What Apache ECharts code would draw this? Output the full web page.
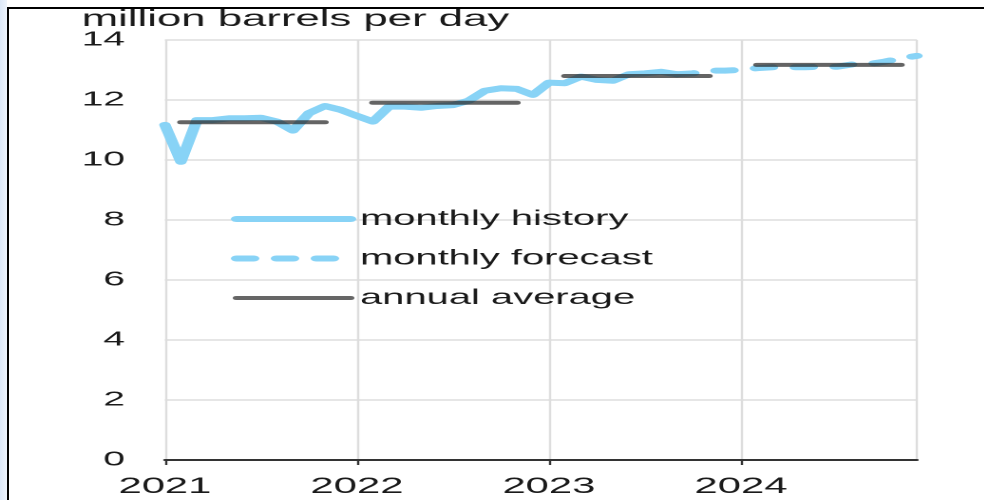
<!DOCTYPE html>
<html>
<head>
<meta charset="utf-8">
<script src="https://cdn.jsdelivr.net/npm/echarts@6/dist/echarts.min.js"></script>
<style>
  html, body { margin: 0; padding: 0; background: #fff; }
  body { width: 984px; height: 500px; position: relative; overflow: hidden; }
  #strip { position: absolute; left: 0; top: 0; width: 7px; height: 500px;
           background: linear-gradient(to right, #dce8f8, #eef4fc); }
  #frame { position: absolute; left: 7px; top: 7px; right: -5px; bottom: -5px;
           border-left: 2.5px solid #000; border-top: 2.5px solid #000; pointer-events: none; z-index: 5; }
  #c { position: absolute; left: 0; top: 0; width: 518px; height: 500px;
       transform: scaleX(1.9); transform-origin: 0 0; }
</style>
</head>
<body>
<div id="strip"></div>
<div id="c"></div>
<div id="frame"></div>
<script>
// ---- data ----
var years = ['2021', '2022', '2023', '2024'];
var months = ['01','02','03','04','05','06','07','08','09','10','11','12'];
// monthly history, Jan 2021 .. Sep 2023
var monthlyHistory = [
  11.17, 9.94, 11.33, 11.33, 11.39, 11.39, 11.41, 11.28, 10.98, 11.56, 11.80, 11.67,
  11.47, 11.28, 11.78, 11.78, 11.74, 11.80, 11.83, 11.98, 12.31, 12.39, 12.37, 12.17,
  12.58, 12.56, 12.78, 12.67, 12.64, 12.86, 12.89, 12.94, 12.86
];
// monthly forecast, Sep 2023 .. Dec 2024
var monthlyForecast = [
  12.86, 12.89, 12.98, 12.98,
  13.00, 13.06, 13.09, 13.09, 13.09, 13.11, 13.11, 13.19, 13.20, 13.28, 13.39, 13.47
];
var forecastStart = 32;
// annual averages
var annualAvg = [11.26, 11.91, 12.80, 13.17];

// ---- build ----
var categories = [];
years.forEach(function (y) { months.forEach(function (m) { categories.push(y + '-' + m); }); });
var n = categories.length;

var histData = categories.map(function (c, i) { return i < monthlyHistory.length ? monthlyHistory[i] : null; });
var fcData = categories.map(function (c, i) {
  var k = i - forecastStart; return (k >= 0 && k < monthlyForecast.length) ? monthlyForecast[k] : null;
});
var avgData = categories.map(function (c, i) {
  var y = Math.floor(i / 12), m = i % 12;
  return (m >= 1 && m <= 10) ? annualAvg[y] : null;
});

var FONT = 'Liberation Sans, Arial, sans-serif';
var BLUE = '#88d3f6';
var GRAY = 'rgba(40,40,40,0.72)';
var TXT = '#1a1a1a';

var chart = echarts.init(document.getElementById('c'), null, { renderer: 'canvas', devicePixelRatio: 2 });
chart.setOption({
  animation: false,
  backgroundColor: 'transparent',
  title: {
    text: 'million barrels per day',
    left: 43, top: 8, padding: 0,
    textStyle: { fontSize: 23, fontWeight: 'normal', color: TXT, fontFamily: FONT }
  },
  legend: {
    orient: 'vertical',
    left: 121.5, top: 208.5, padding: 0,
    itemWidth: 60, itemHeight: 20, itemGap: 18.5,
    itemStyle: { opacity: 0 },
    textStyle: { fontSize: 21, color: TXT, fontFamily: FONT },
    data: [
      { name: 'monthly history', itemStyle: { opacity: 0 },
        lineStyle: { width: 6, color: BLUE, cap: 'round', type: 'solid' } },
      { name: 'monthly forecast', itemStyle: { opacity: 0 },
        lineStyle: { width: 6, color: BLUE, cap: 'round', type: [9, 12] } },
      { name: 'annual average', itemStyle: { opacity: 0 },
        lineStyle: { width: 4, color: '#666', cap: 'round', type: 'solid' } }
    ]
  },
  grid: { left: 86.8, right: 35.4, top: 40, bottom: 40, containLabel: false },
  xAxis: {
    type: 'category',
    data: categories,
    boundaryGap: false,
    axisLine: { show: true, lineStyle: { color: '#333', width: 2 } },
    axisTick: { show: true, length: 5, inside: false,
      interval: function (i) { return i % 12 === 0; },
      lineStyle: { color: '#333', width: 1.2 } },
    axisLabel: { show: true, margin: 16,
      interval: function (i) { return i % 12 === 0; },
      formatter: function (v) { return v.slice(0, 4); },
      fontSize: 22, color: TXT, fontFamily: FONT },
    splitLine: { show: true,
      interval: function (i) { return i % 12 === 0 || i === n - 1; },
      lineStyle: { color: '#dddddd', width: 1.2 } }
  },
  yAxis: {
    type: 'value', min: 0, max: 14, interval: 2,
    axisLine: { show: false }, axisTick: { show: false },
    axisLabel: { margin: 21, fontSize: 20.5, color: TXT, fontFamily: FONT },
    splitLine: { lineStyle: { color: '#dddddd', width: 1.5 } }
  },
  series: [
    { name: 'monthly history', type: 'line', data: histData, symbol: 'none', z: 2,
      lineStyle: { color: BLUE, width: 6, cap: 'round', join: 'round' }, itemStyle: { color: BLUE } },
    { name: 'monthly forecast', type: 'line', data: fcData, symbol: 'none', z: 2,
      lineStyle: { color: BLUE, width: 6, type: [9, 12], cap: 'round' }, itemStyle: { color: BLUE } },
    { name: 'annual average', type: 'line', data: avgData, symbol: 'none', z: 3, connectNulls: false,
      lineStyle: { color: GRAY, width: 4, cap: 'round' }, itemStyle: { color: '#666' } }
  ]
});
</script>
</body>
</html>
